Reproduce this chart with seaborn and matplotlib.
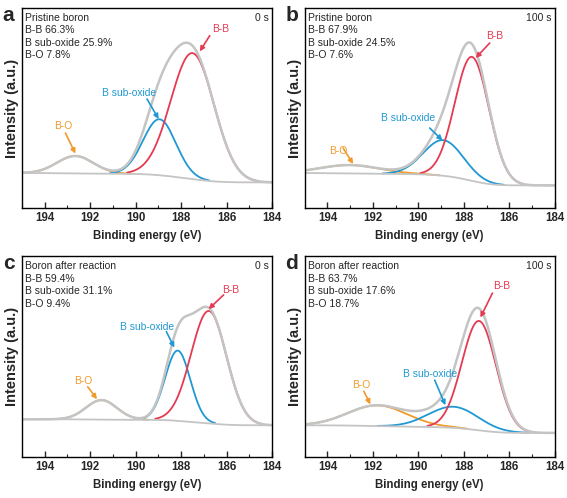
import numpy as np
import seaborn as sns
import matplotlib.pyplot as plt

sns.set_style("white")
plt.rcParams["font.family"] = ["Liberation Sans", "DejaVu Sans"]

# fitted components per panel: center (eV), height (a.u., above background), sigma (eV)
panels = ["a", "b", "c", "d"]
samples = ["Pristine boron", "Pristine boron", "Boron after reaction", "Boron after reaction"]
times = ["0 s", "100 s", "0 s", "100 s"]
pct_bb = ["66.3%", "67.9%", "59.4%", "63.7%"]
pct_sub = ["25.9%", "24.5%", "31.1%", "17.6%"]
pct_bo = ["7.8%", "7.6%", "9.4%", "18.7%"]

bb_center = [187.5, 187.64, 186.78, 187.33]
bb_height = [0.63, 0.62, 0.56, 0.545]
bb_sigma = [0.95, 0.75, 0.78, 0.75]

sub_center = [188.95, 188.9, 188.15, 188.45]
sub_height = [0.28, 0.178, 0.35, 0.105]
sub_sigma = [0.72, 0.88, 0.55, 1.1]

bo_center = [192.65, 193.0, 191.5, 191.8]
bo_height = [0.087, 0.042, 0.097, 0.103]
bo_sigma = [0.8, 1.3, 0.68, 1.3]

# Shirley background end levels (high binding energy side, low side)
bg_high = [0.175, 0.175, 0.188, 0.158]
bg_low = [0.128, 0.113, 0.158, 0.12]

# annotations: text centre, arrow tail, arrow head (eV, a.u.)
bb_text = [(186.27, 0.895), (186.64, 0.858), (185.83, 0.833), (186.35, 0.85)]
bb_tail = [(186.74, 0.862), (186.86, 0.825), (186.13, 0.808), (186.74, 0.817)]
bb_head = [(187.18, 0.783), (187.48, 0.75), (186.79, 0.737), (187.27, 0.695)]

sub_text = [(190.31, 0.575), (190.45, 0.45), (189.5, 0.647), (189.5, 0.413)]
sub_tail = [(189.5, 0.545), (189.5, 0.40), (188.65, 0.625), (189.28, 0.383)]
sub_head = [(188.99, 0.445), (188.94, 0.338), (188.3, 0.545), (188.81, 0.258)]

bo_text = [(193.17, 0.408), (193.53, 0.283), (192.29, 0.38), (192.5, 0.358)]
bo_tail = [(193.09, 0.375), (193.31, 0.30), (192.11, 0.35), (192.4, 0.328)]
bo_head = [(192.65, 0.272), (192.87, 0.22), (191.7, 0.288), (192.11, 0.262)]

RED = "#e53a52"
BLUE = "#1f98d3"
ORANGE = "#f09a2a"
GRAY = "#c4c4c4"

energy = np.linspace(184, 195, 600)


def gauss(x, c, h, s):
    return h * np.exp(-((x - c) ** 2) / (2 * s ** 2))


fig = plt.figure(figsize=(5.67, 4.98), dpi=100)
boxes = [(0.0388, 0.5823, 0.441, 0.4016), (0.5374, 0.5823, 0.441, 0.4016),
         (0.0388, 0.0823, 0.441, 0.4030), (0.5374, 0.0823, 0.441, 0.4030)]

for i, box in enumerate(boxes):
    ax = fig.add_axes(box)
    bb = gauss(energy, bb_center[i], bb_height[i], bb_sigma[i])
    sub = gauss(energy, sub_center[i], sub_height[i], sub_sigma[i])
    bo = gauss(energy, bo_center[i], bo_height[i], bo_sigma[i])
    total = bb + sub + bo
    cum = np.cumsum(total)
    bg = bg_low[i] + (bg_high[i] - bg_low[i]) * cum / cum[-1]

    for comp, col in [(bo, ORANGE), (sub, BLUE), (bb, RED)]:
        m = comp > comp.max() * 0.01
        sns.lineplot(x=energy[m], y=(comp + bg)[m], ax=ax, color=col, lw=1.3)
    sns.lineplot(x=energy, y=bg, ax=ax, color=GRAY, lw=1.3)
    sns.lineplot(x=energy, y=total + bg, ax=ax, color=GRAY, lw=1.8)

    ax.set_xlim(195, 184)
    ax.set_ylim(0, 1)
    ax.set_yticks([])
    ax.set_xticks([194, 192, 190, 188, 186, 184])
    ax.set_xticks(np.arange(184, 196, 1), minor=True)
    ax.tick_params(axis="x", which="major", direction="in", length=4, width=1,
                   labelsize=8.3, pad=3, bottom=True)
    ax.tick_params(axis="x", which="minor", direction="in", length=2, width=0.8, bottom=True)
    for lab in ax.get_xticklabels():
        lab.set_fontweight("bold")
    for sp in ax.spines.values():
        sp.set_linewidth(1.0)
        sp.set_color("black")
    ax.set_xlabel("Binding energy (eV)", fontsize=8.3, fontweight="bold", labelpad=4)
    ax.set_ylabel("Intensity (a.u.)", fontsize=10.5, fontweight="bold", labelpad=2)

    lines = [samples[i], "B-B " + pct_bb[i], "B sub-oxide " + pct_sub[i], "B-O " + pct_bo[i]]
    for k, t in enumerate(lines):
        ax.text(0.013, 0.975 - k * 0.062, t, transform=ax.transAxes, fontsize=7.5,
                va="top", ha="left")
    ax.text(0.987, 0.975, times[i], transform=ax.transAxes, fontsize=7.5,
            va="top", ha="right")

    for txt, tail, head, lab, col in [(bb_text[i], bb_tail[i], bb_head[i], "B-B", RED),
                                      (sub_text[i], sub_tail[i], sub_head[i], "B sub-oxide", BLUE),
                                      (bo_text[i], bo_tail[i], bo_head[i], "B-O", ORANGE)]:
        ax.text(txt[0], txt[1], lab, color=col, fontsize=7.4, ha="center", va="center")
        ax.annotate("", xy=head, xytext=tail,
                    arrowprops=dict(arrowstyle="-|>", color=col, lw=1.2,
                                    mutation_scale=7, shrinkA=0, shrinkB=0))

    fig.text(box[0] - 0.034, box[1] + box[3] + 0.005, panels[i], fontsize=15,
             fontweight="bold", va="top", ha="left")

fig.savefig("out.png", dpi=100)
